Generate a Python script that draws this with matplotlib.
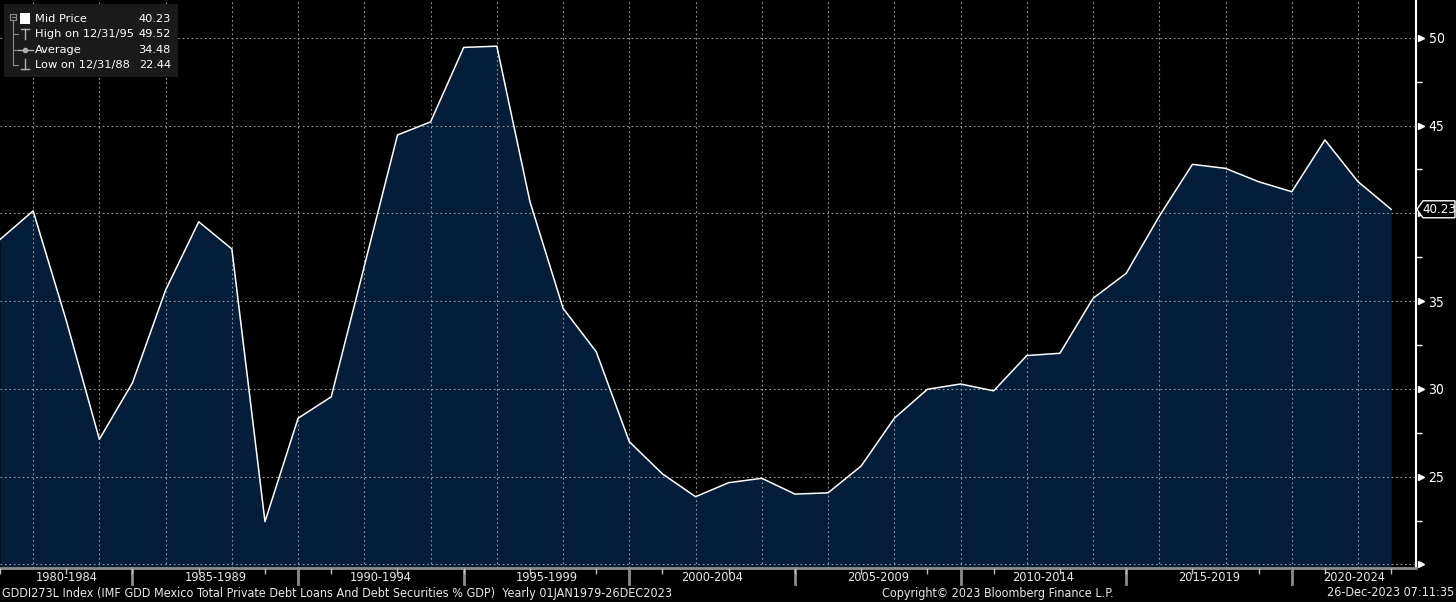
import matplotlib
matplotlib.use('Agg')
import matplotlib.pyplot as plt
import matplotlib.transforms as mtransforms
from matplotlib.patches import Polygon, Rectangle

plt.rcParams['font.family'] = ['DejaVu Sans']
plt.rcParams['font.stretch'] = 'condensed'

# yearly values (12/31 of each year), % of GDP
years = list(range(1980, 2023))
values = [38.51, 40.14, 33.90, 27.13, 30.35, 35.63, 39.52, 37.97, 22.44, 28.33,
          29.55, 37.00, 44.46, 45.21, 49.45, 49.52, 40.66, 34.59, 32.12, 26.99,
          25.16, 23.86, 24.66, 24.91, 24.01, 24.08, 25.61, 28.33, 29.98, 30.28,
          29.89, 31.90, 32.03, 35.16, 36.58, 39.84, 42.79, 42.56, 41.80, 41.23,
          44.18, 41.80, 40.23]

period_labels = ['1980-1984', '1985-1989', '1990-1994', '1995-1999', '2000-2004',
                 '2005-2009', '2010-2014', '2015-2019', '2020-2024']
period_edges = [1980, 1984, 1989, 1994, 1999, 2004, 2009, 2014, 2019, 2022.75]

legend_labels = ['Mid Price', 'High on 12/31/95', 'Average', 'Low on 12/31/88']
legend_values = ['40.23', '49.52', '34.48', '22.44']

y_ticks = [20, 25, 30, 35, 40, 45, 50]
y_ticklabels = ['', '25', '30', '35', '', '45', '50']

footer_left = 'GDDI273L Index (IMF GDD Mexico Total Private Debt Loans And Debt Securities % GDP)  Yearly 01JAN1979-26DEC2023'
footer_mid = 'Copyright\u00a9 2023 Bloomberg Finance L.P.'
footer_right = '26-Dec-2023 07:11:35'

W, H = 1456, 602
navy = '#031d3b'
grey = '#8c8c8c'
txt = '#e8e8e8'

fig = plt.figure(figsize=(W / 100, H / 100), dpi=100, facecolor='black')
ax = fig.add_axes([0, 34 / H, 1416 / W, 568 / H])
ax.set_facecolor('black')
ymin, ymax = 19.8, 52.15
ax.set_xlim(1980, 2022.75)
ax.set_ylim(ymin, ymax)

ax.fill_between(years, values, ymin, color=navy, lw=0, zorder=1)
ax.plot(years, values, color='white', lw=1.1, zorder=3)

# grid
ax.set_axisbelow(False)
ax.set_xticks(range(1981, 2022, 2))
ax.set_xticks(range(1980, 2023), minor=True)
ax.tick_params(axis='x', which='major', length=0, labelbottom=False)
ax.tick_params(axis='x', which='minor', length=4, width=1, color='#bdbdbd')
ax.grid(True, which='major', color='#9a9a9a', linestyle=(0, (1.5, 2.5)), lw=0.8)

# right axis
ax.yaxis.tick_right()
ax.set_yticks(y_ticks)
ax.set_yticklabels(y_ticklabels)
ax.set_yticks([22.5, 27.5, 32.5, 37.5, 42.5, 47.5], minor=True)
ax.tick_params(axis='y', which='major', length=0, pad=9, labelcolor='white', labelsize=10)
ax.tick_params(axis='y', which='minor', length=4, width=1, color='white')
arrow_off = mtransforms.ScaledTranslation(0.045, 0, fig.dpi_scale_trans)
ax.plot([1] * len(y_ticks), y_ticks, marker='>', ls='none', color='white', ms=5,
        transform=ax.get_yaxis_transform() + arrow_off, clip_on=False, zorder=5)

for s in ['left', 'top']:
    ax.spines[s].set_visible(False)
ax.spines['right'].set_color('white')
ax.spines['right'].set_linewidth(1.5)
ax.spines['bottom'].set_color(grey)
ax.spines['bottom'].set_linewidth(2)

# period separators and labels
xt = ax.get_xaxis_transform()
for e in period_edges[1:-1]:
    ax.plot([e, e], [0, -16 / 568], transform=xt, color=grey, lw=2, clip_on=False)
for i, lab in enumerate(period_labels):
    c = (period_edges[i] + period_edges[i + 1]) / 2
    ax.text(c, -9.5 / 568, lab, transform=xt, ha='center', va='center',
            color=txt, fontsize=9.2)

# last price tag
xd, yd = ax.transData.transform((2022.75, values[-1]))
tag = Polygon([(xd + 1, yd), (xd + 7, yd + 8.5), (W - 1, yd + 8.5),
               (W - 1, yd - 8.5), (xd + 7, yd - 8.5)], closed=True,
              facecolor='black', edgecolor='white', lw=1,
              transform=mtransforms.IdentityTransform())
fig.add_artist(tag)
fig.text((xd + 7 + W - 1) / 2 / W, yd / H, f'{values[-1]:.2f}', color='white',
         fontsize=9.5, ha='center', va='center')

# footer
fy = 1 - 593 / H
fig.text(2 / W, fy, footer_left, color=txt, fontsize=9, ha='left', va='center')
fig.text(998 / W, fy, footer_mid, color=txt, fontsize=9, ha='center', va='center')
fig.text(1454 / W, fy, footer_right, color=txt, fontsize=9, ha='right', va='center')

# legend box (pixel overlay)
lax = fig.add_axes([0, 0, 1, 1])
lax.set_xlim(0, W)
lax.set_ylim(H, 0)
lax.axis('off')
lax.add_patch(Rectangle((4, 4), 174, 73, facecolor='#1a1a1a', edgecolor='none'))
lg = '#8a8a8a'
lax.add_patch(Rectangle((10, 14), 6, 6, facecolor='none', edgecolor=lg, lw=0.8))
lax.plot([11.5, 14.5], [17, 17], color=lg, lw=0.8)
lax.plot([13, 13], [20, 65], color=lg, lw=0.8)
for ry in [34, 50, 65]:
    lax.plot([13, 18], [ry, ry], color=lg, lw=0.8)
lax.add_patch(Rectangle((20, 13), 10, 11, facecolor='white', edgecolor='none'))
lax.plot([21, 29], [29, 29], color='#b0b0b0', lw=1)
lax.plot([25, 25], [29, 39], color='#b0b0b0', lw=1)
lax.plot([18, 33], [50, 50], color='#b0b0b0', lw=1)
lax.plot([25], [50], marker='o', ms=3, color='#b0b0b0')
lax.plot([25, 25], [59, 69], color='#b0b0b0', lw=1)
lax.plot([21, 29], [69, 69], color='#b0b0b0', lw=1)
for ry, lab, val in zip([19, 34, 50, 65], legend_labels, legend_values):
    lax.text(35, ry, lab, color='white', fontsize=8.2, stretch='normal',
             ha='left', va='center')
    lax.text(171, ry, val, color='white', fontsize=8.2, stretch='normal',
             ha='right', va='center')

fig.savefig('out.png', dpi=100, facecolor='black')
